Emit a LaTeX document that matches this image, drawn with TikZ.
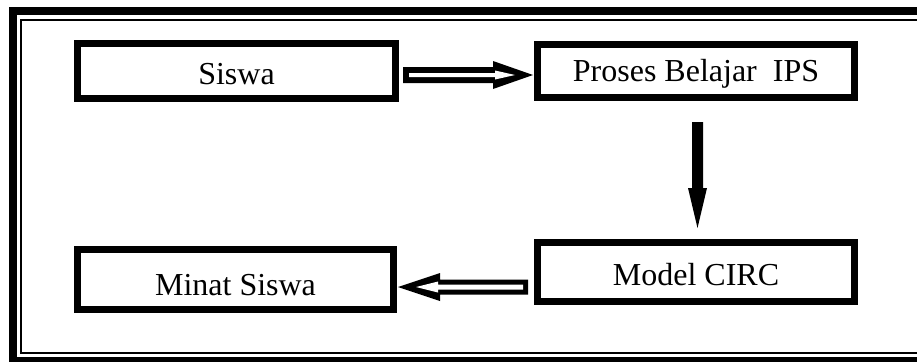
\documentclass[tikz,border=0pt]{standalone}
\usepackage{fontspec}
\setmainfont{Liberation Serif}
\usetikzlibrary{calc}
\newcommand{\lowtext}[2]{\raisebox{-#1}[\height][\depth]{#2}}
\tikzset{
  boxnode/.style={draw=black, line width=7pt, fill=white, inner sep=0pt,
    font=\fontsize{32}{38}\selectfont},
  hollowout/.style={fill=black},
  hollowin/.style={fill=white},
}
\begin{document}
\begin{tikzpicture}[x=1pt,y=-1pt]
\useasboundingbox (0,0) rectangle (917,361);
\clip (0,0) rectangle (917,361);
% frame
\draw[line width=8pt] (12.5,11) rectangle (930,361);
\draw[line width=2pt] (21,20) rectangle (921,353);
% boxes
\node[boxnode, minimum width=318pt, minimum height=55pt] (s) at (236.5,71) {\lowtext{3pt}{Siswa}};
\node[boxnode, minimum width=317pt, minimum height=53pt] (p) at (696,71) {\lowtext{3pt}{Proses Belajar~ IPS}};
\node[boxnode, minimum width=317pt, minimum height=59pt] (m) at (696,272) {\lowtext{3pt}{Model CIRC}};
\node[boxnode, minimum width=316pt, minimum height=60pt] (n) at (235.5,279.5) {\lowtext{6pt}{Minat Siswa}};
% arrow Siswa -> Proses (hollow)
\begin{scope}[shift={($(s.east)+(4,4)$)}]
  \fill[hollowout] (0,-8) -- (90,-8) -- (90,-14) -- (130,0) -- (90,14) -- (90,8) -- (0,8) -- cycle;
  \fill[hollowin] (6,-2) -- (92,-2) -- (92,-4.5) -- (112,0) -- (92,4.5) -- (92,2) -- (6,2) -- cycle;
\end{scope}
% arrow Proses -> Model (solid)
\begin{scope}[shift={($(p.south)+(1.5,21)$)}]
  \fill[black] (-5.5,0) -- (5.5,0) -- (5.5,66) -- (9.5,66) -- (0,106) -- (-9.5,66) -- (-5.5,66) -- cycle;
\end{scope}
% arrow Model -> Minat (hollow)
\begin{scope}[shift={($(m.west)+(-6,15)$)}]
  \fill[hollowout] (0,-7.5) -- (-88,-7.5) -- (-88,-14) -- (-130,0) -- (-88,14) -- (-88,7.5) -- (0,7.5) -- cycle;
  \fill[hollowin] (-5,-2.5) -- (-90,-2.5) -- (-90,-5.5) -- (-112,0) -- (-90,5.5) -- (-90,2.5) -- (-5,2.5) -- cycle;
\end{scope}
\end{tikzpicture}
\end{document}
